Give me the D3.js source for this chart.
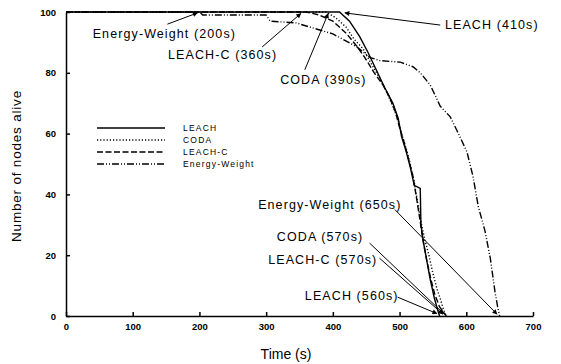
<!DOCTYPE html>
<html>
<head>
<meta charset="utf-8">
<script src="https://cdn.jsdelivr.net/npm/d3@7"></script>
<style>
  body { margin: 0; background: #fff; }
  svg { font-family: "Liberation Sans", Arial, sans-serif; }
  .axis path, .axis line { stroke: #000; stroke-width: 1.5; }
  .axis text { font-size: 9.5px; font-weight: bold; fill: #000; }
  .curve { fill: none; stroke: #000; stroke-width: 1.4; }
  .note { font-size: 12.5px; letter-spacing: 1.1px; fill: #000; }
  .leg { font-size: 8.5px; letter-spacing: 1.2px; fill: #000; }
</style>
</head>
<body>
<div id="chart"></div>
<script>
// values (time in s, nodes alive)
var leachT = [0, 410, 425, 440, 452, 465, 478, 490, 498, 503, 510, 516, 522, 531, 532, 536, 541, 546, 552, 557, 560];
var leachN = [100, 100, 97, 92, 87, 81, 75, 70, 65, 59, 54, 49, 43, 42, 30, 24, 18, 12, 6, 2, 0];

var codaT = [0, 390, 405, 420, 432, 445, 455, 468, 480, 490, 497, 503, 510, 516, 522, 528, 533, 538, 544, 550, 556, 562, 566, 570];
var codaN = [100, 100, 98, 95, 91, 88, 84, 79, 74, 69, 65, 60, 55, 50, 44, 36, 30, 25, 20, 14, 9, 5, 2, 0];

var leachcT = [0, 360, 380, 400, 420, 435, 448, 462, 475, 485, 494, 500, 507, 513, 520, 526, 531, 535, 541, 547, 553, 560, 570];
var leachcN = [100, 100, 99, 97, 93, 89, 85, 80, 76, 72, 67, 62, 57, 52, 46, 38, 31, 25, 18, 12, 7, 3, 0];

var ewT = [0, 200, 205, 300, 306, 346, 351, 400, 436, 456, 471, 501, 520, 531, 546, 561, 576, 586, 601, 610, 618, 628, 636, 643, 647, 650];
var ewN = [100, 100, 99, 99, 97, 96.4, 96, 92.8, 88.5, 85, 84, 83.5, 82, 80, 76, 69, 65.5, 61, 54, 46, 36, 28, 19, 8, 3, 0];

var seriesNames = ['LEACH', 'CODA', 'LEACH-C', 'Energy-Weight'];
var seriesDash = ['none', '1.2,2', '6,2.5', '7,2,1,2,1,2'];

var xTicks = [0, 100, 200, 300, 400, 500, 600, 700];
var yTicks = [0, 20, 40, 60, 80, 100];

// annotations: text, label anchor (t, n), arrow start (t, n), arrow tip (t, n)
var noteText = ['Energy-Weight (200s)', 'LEACH-C (360s)', 'CODA (390s)', 'LEACH (410s)',
  'Energy-Weight (650s)', 'CODA (570s)', 'LEACH-C (570s)', 'LEACH (560s)'];
var noteLabel = [[40, 93], [153, 86], [321, 77.6], [568, 95.7], [288, 36.5], [316, 26], [303, 18.4], [358, 6.6]];
var noteFrom = [[152, 96], [294, 88.5], [358, 81], [561, 95.7], [493, 35], [455, 24], [470, 19], [497, 6.2]];
var noteTo = [[197, 99.7], [352, 99.5], [393, 99.5], [418, 99.7], [646, 0.6], [566, 0.8], [565, 0.6], [556, 0.8]];

var width = 561, height = 364;
var svg = d3.select('#chart').append('svg')
  .attr('width', width)
  .attr('height', height);

var x = d3.scaleLinear().domain([0, 700]).range([66, 533]);
var y = d3.scaleLinear().domain([0, 100]).range([316, 12]);

svg.append('defs').append('marker')
  .attr('id', 'arr')
  .attr('viewBox', '0 0 10 10')
  .attr('refX', 9).attr('refY', 5)
  .attr('markerWidth', 7).attr('markerHeight', 5)
  .attr('markerUnits', 'userSpaceOnUse')
  .attr('orient', 'auto')
  .append('path')
  .attr('d', 'M0,0L10,5L0,10z')
  .attr('fill', '#000');

svg.append('g')
  .attr('class', 'axis')
  .attr('transform', 'translate(0,' + y(0) + ')')
  .call(d3.axisBottom(x).tickValues(xTicks).tickSize(-4).tickSizeOuter(0).tickPadding(7));

svg.append('g')
  .attr('class', 'axis')
  .attr('transform', 'translate(' + x(0) + ',0)')
  .call(d3.axisLeft(y).tickValues(yTicks).tickSize(-4).tickSizeOuter(0).tickPadding(10));

svg.append('text')
  .attr('x', 286).attr('y', 359)
  .attr('text-anchor', 'middle')
  .style('font-size', '14px')
  .text('Time (s)');

svg.append('text')
  .attr('transform', 'translate(21,166) rotate(-90)')
  .attr('text-anchor', 'middle')
  .style('font-size', '13.5px')
  .style('letter-spacing', '0.8px')
  .text('Number of nodes alive');

var line = d3.line()
  .x(function(d) { return x(d[0]); })
  .y(function(d) { return y(d[1]); });

var allT = [leachT, codaT, leachcT, ewT];
var allN = [leachN, codaN, leachcN, ewN];

allT.forEach(function(ts, i) {
  var pts = ts.map(function(t, j) { return [t, allN[i][j]]; });
  svg.append('path')
    .datum(pts)
    .attr('class', 'curve')
    .attr('stroke-dasharray', seriesDash[i])
    .attr('d', line);
});

// legend
var leg = svg.append('g').attr('transform', 'translate(97,128)');
seriesNames.forEach(function(name, i) {
  leg.append('line')
    .attr('x1', 0).attr('x2', 68)
    .attr('y1', i * 12).attr('y2', i * 12)
    .attr('stroke', '#000')
    .attr('stroke-width', 1.4)
    .attr('stroke-dasharray', seriesDash[i]);
  leg.append('text')
    .attr('class', 'leg')
    .attr('x', 86).attr('y', i * 12)
    .attr('dy', '0.35em')
    .text(name);
});

// annotations
noteText.forEach(function(txt, i) {
  svg.append('text')
    .attr('class', 'note')
    .attr('x', x(noteLabel[i][0]))
    .attr('y', y(noteLabel[i][1]))
    .attr('dy', '0.35em')
    .text(txt);
  svg.append('line')
    .attr('x1', x(noteFrom[i][0])).attr('y1', y(noteFrom[i][1]))
    .attr('x2', x(noteTo[i][0])).attr('y2', y(noteTo[i][1]))
    .attr('stroke', '#000')
    .attr('stroke-width', 1)
    .attr('marker-end', 'url(#arr)');
});
</script>
</body>
</html>
